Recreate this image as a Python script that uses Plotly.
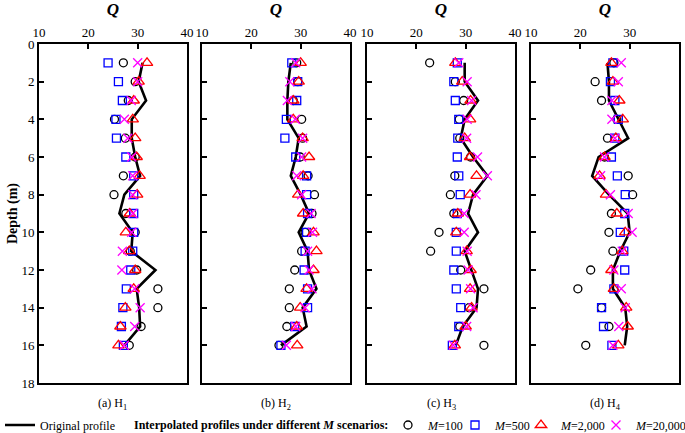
import plotly.graph_objects as go

depth = list(range(1, 17))
panel_labels = ["(a) H<sub>1</sub>", "(b) H<sub>2</sub>", "(c) H<sub>3</sub>", "(d) H<sub>4</sub>"]
x_ticks = [10, 20, 30, 40]
y_ticks = [0, 2, 4, 6, 8, 10, 12, 14, 16, 18]

orig_a = [31.0, 30.2, 31.7, 28.8, 28.8, 29.5, 30.5, 27.3, 26.3, 29.0, 28.7, 33.6, 29.8, 30.3, 30.5, 27.3]
m100_a = [27.1, 29.5, 28.1, 25.3, 27.5, 29.5, 27.1, 25.2, 27.6, 29.5, 28.5, 29.8, 34.1, 34.1, 30.7, 28.3]
m500_a = [24.0, 26.1, 26.9, 25.6, 25.7, 27.6, 29.2, 29.2, 29.2, 29.2, 29.0, 28.6, 27.7, 27.0, 26.7, 27.1]
m2000_a = [31.9, 30.2, 29.2, 29.0, 29.5, 29.8, 30.4, 29.9, 28.4, 27.6, 28.3, 29.5, 29.2, 27.5, 26.5, 26.1]
m20000_a = [30.0, 30.0, 28.7, 27.3, 28.0, 28.8, 29.0, 29.0, 29.0, 28.8, 26.9, 26.8, 29.4, 30.5, 29.4, 27.3]

orig_b = [28.0, 27.5, 27.3, 27.3, 29.6, 29.0, 28.0, 30.0, 31.7, 29.6, 31.4, 31.7, 33.2, 30.4, 31.2, 26.0]
m100_b = [29.2, 29.4, 28.5, 30.2, 30.4, 29.9, 31.5, 32.8, 32.3, 30.9, 30.2, 28.8, 27.7, 27.7, 27.2, 25.6]
m500_b = [28.2, 29.4, 29.2, 27.1, 26.8, 29.0, 31.2, 31.2, 31.4, 31.2, 30.9, 30.7, 31.4, 31.4, 28.8, 26.0]
m2000_b = [30.0, 29.6, 28.5, 28.5, 30.4, 31.7, 30.5, 29.5, 30.5, 32.6, 33.2, 32.6, 31.2, 29.9, 29.2, 29.3]
m20000_b = [29.0, 27.8, 27.3, 28.9, 30.4, 30.2, 29.2, 30.2, 32.1, 32.4, 31.4, 31.7, 32.3, 30.9, 29.0, 27.1]

orig_c = [29.8, 29.8, 32.5, 29.8, 29.0, 31.5, 34.4, 31.5, 30.5, 32.5, 29.8, 31.2, 32.5, 32.2, 29.4, 28.0]
m100_c = [22.7, 27.9, 29.6, 28.7, 28.8, 31.0, 27.8, 26.9, 27.6, 24.6, 22.9, 29.0, 33.7, 30.7, 28.8, 33.7]
m500_c = [28.3, 27.6, 27.9, 28.6, 28.4, 28.3, 28.6, 28.9, 28.3, 28.1, 28.1, 27.6, 28.1, 29.0, 28.6, 27.3]
m2000_c = [27.9, 29.3, 31.0, 30.9, 29.8, 30.9, 32.2, 30.9, 28.4, 28.1, 30.2, 31.0, 30.9, 31.2, 30.0, 27.8]
m20000_c = [28.6, 30.3, 31.2, 30.3, 30.2, 32.4, 34.4, 32.1, 29.7, 29.7, 30.3, 30.5, 31.0, 31.5, 30.2, 27.5]

orig_d = [25.5, 25.8, 25.8, 27.8, 29.7, 23.7, 22.4, 25.8, 29.6, 30.0, 28.1, 26.6, 26.6, 29.1, 29.5, 29.0]
m100_d = [26.8, 23.0, 24.3, 27.4, 25.5, 24.9, 29.7, 30.6, 26.3, 25.8, 26.6, 22.1, 19.5, 24.3, 25.8, 21.1]
m500_d = [26.6, 26.1, 27.0, 27.7, 27.0, 26.3, 27.5, 29.1, 29.0, 28.1, 28.8, 29.0, 26.8, 24.3, 24.7, 26.4]
m2000_d = [26.3, 26.6, 27.9, 28.6, 27.2, 24.9, 23.9, 25.2, 27.4, 29.1, 28.5, 26.3, 26.8, 29.3, 29.6, 27.7]
m20000_d = [28.3, 27.7, 26.4, 26.4, 27.0, 24.9, 24.1, 26.1, 29.7, 30.5, 28.5, 26.8, 28.3, 29.1, 27.8, 26.6]

panels = [
    (orig_a, m100_a, m500_a, m2000_a, m20000_a),
    (orig_b, m100_b, m500_b, m2000_b, m20000_b),
    (orig_c, m100_c, m500_c, m2000_c, m20000_c),
    (orig_d, m100_d, m500_d, m2000_d, m20000_d),
]

series_style = [
    ("<i>M</i>=100", "circle-open", "#000000", 8),
    ("<i>M</i>=500", "square-open", "#0000FF", 8),
    ("<i>M</i>=2,000", "triangle-up-open", "#FF0000", 10),
    ("<i>M</i>=20,000", "x-thin-open", "#FF00FF", 9),
]

W, H = 685, 433
FONT = "Liberation Serif, Times New Roman, serif"
left_px = [39, 202, 367, 531]
pw = 148
top_px, bot_px = 44, 383
legend_y_px = 425
legend_x_px = [388, 455, 521, 596]
legend_names = ["legend2", "legend3", "legend4", "legend5"]

fig = go.Figure()
layout = dict()
for i, (orig, *ms) in enumerate(panels):
    xa = "x" if i == 0 else f"x{i+1}"
    ya = "y" if i == 0 else f"y{i+1}"
    fig.add_trace(go.Scatter(
        x=orig, y=depth, mode="lines", xaxis=xa, yaxis=ya,
        line=dict(color="black", width=2.6), name="Original profile",
        showlegend=(i == 0), legend="legend"))
    for k, ((name, sym, col, sz), vals) in enumerate(zip(series_style, ms)):
        fig.add_trace(go.Scatter(
            x=vals, y=depth, mode="markers", xaxis=xa, yaxis=ya,
            marker=dict(symbol=sym, color=col, size=sz, line=dict(color=col, width=1.3)),
            name=name, showlegend=(i == 0), legend=legend_names[k]))
    key = "" if i == 0 else str(i + 1)
    x0 = left_px[i] / W
    x1 = (left_px[i] + pw) / W
    layout[f"xaxis{key}"] = dict(
        domain=[x0, x1], range=[10, 40], side="top", tickvals=x_ticks,
        ticks="inside", ticklen=5, tickwidth=1.5, tickcolor="black",
        showline=True, linewidth=2, linecolor="black", mirror=True,
        showgrid=False, zeroline=False, anchor=ya, automargin=False,
        tickfont=dict(family=FONT, size=13, color="black"),
        title=dict(text="<b><i>Q</i></b>", font=dict(family=FONT, size=17, color="black"), standoff=5),
    )
    yax = dict(
        domain=[1 - bot_px / H, 1 - top_px / H], range=[18, 0], tickvals=y_ticks,
        ticks="inside", ticklen=5, tickwidth=1.5, tickcolor="black",
        showline=True, linewidth=2, linecolor="black", mirror=True,
        showgrid=False, zeroline=False, anchor=xa, showticklabels=(i == 0),
        automargin=False,
        tickfont=dict(family=FONT, size=13, color="black"),
    )
    if i == 0:
        yax["title"] = dict(text="<b>Depth (m)</b>", font=dict(family=FONT, size=14, color="black"), standoff=1)
    layout[f"yaxis{key}"] = yax

annotations = []
for i, lab in enumerate(panel_labels):
    annotations.append(dict(
        text=lab, x=(left_px[i] + pw / 2) / W, y=1 - 404 / H, xref="paper", yref="paper",
        showarrow=False, xanchor="center", yanchor="middle",
        font=dict(family=FONT, size=12, color="black")))
annotations.append(dict(
    text="<b>Interpolated profiles under different <i>M</i> scenarios:</b>",
    x=132 / W, y=1 - legend_y_px / H, xref="paper", yref="paper",
    showarrow=False, xanchor="left", yanchor="middle",
    font=dict(family=FONT, size=12, color="black")))

legend_common = dict(orientation="h", y=1 - legend_y_px / H, xanchor="left", yanchor="middle",
                     font=dict(family=FONT, size=12, color="black"), itemwidth=30,
                     bgcolor="rgba(0,0,0,0)")
for name, lx in zip(legend_names, legend_x_px):
    layout[name] = dict(x=lx / W, **legend_common)

fig.update_layout(
    width=W, height=H, margin=dict(l=0, r=0, t=0, b=0, autoexpand=False),
    paper_bgcolor="white", plot_bgcolor="white",
    font=dict(family=FONT, size=12, color="black"),
    annotations=annotations,
    legend=dict(x=0.0, **legend_common),
    **layout,
)

fig.write_html("out.html", config={"displayModeBar": False},
               post_script="document.body.style.margin='0';")
